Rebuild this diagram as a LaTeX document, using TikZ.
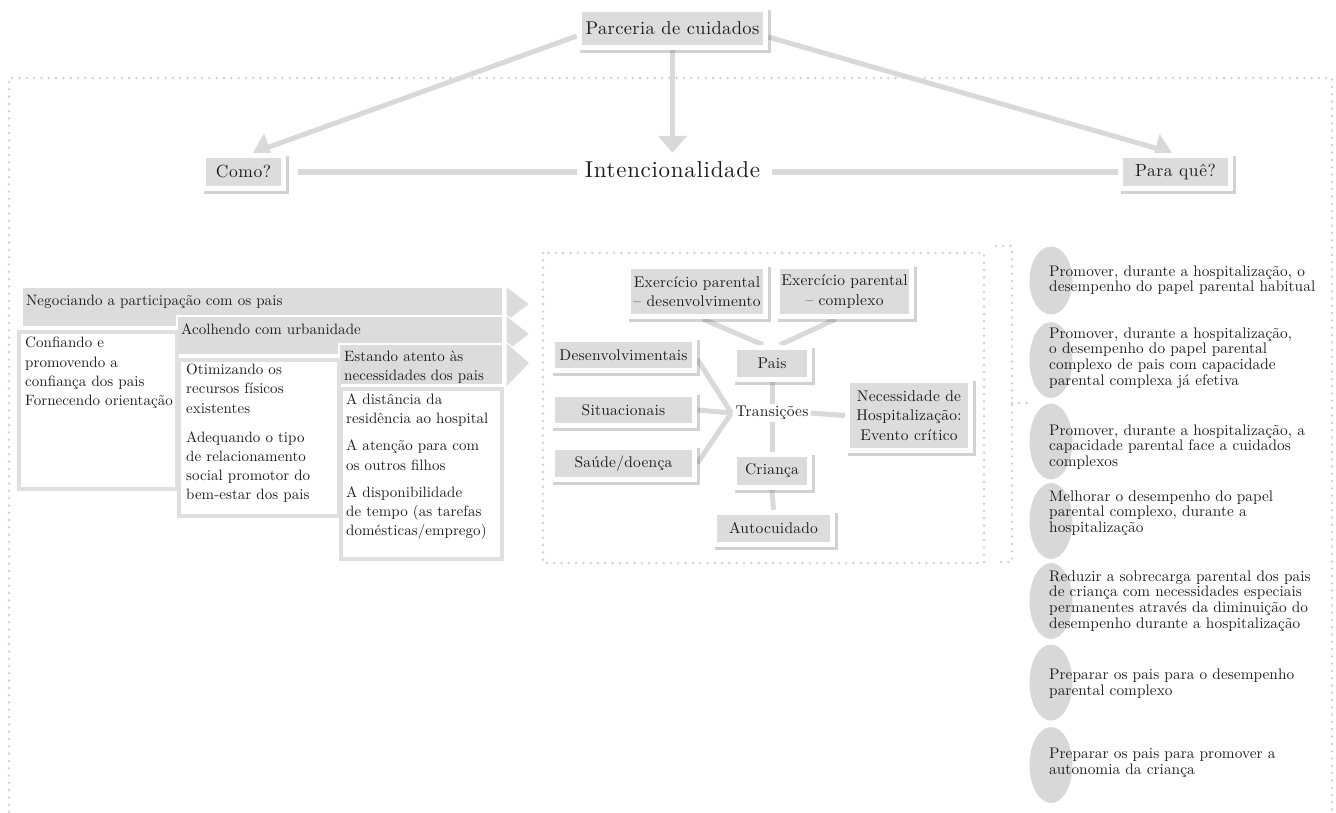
\documentclass[tikz,border=0pt]{standalone}
\usepackage{fontspec}
\setmainfont{lmroman10-regular.otf}[ItalicFont=lmroman10-italic.otf, BoldFont=lmroman10-bold.otf]
\usetikzlibrary{arrows.meta,shadows,shapes.geometric,backgrounds}
\definecolor{boxgray}{HTML}{DCDCDC}
\definecolor{linegray}{HTML}{D9D9D9}
\definecolor{dotgray}{HTML}{D3D3D3}
\definecolor{bordergray}{HTML}{E0E0E0}
\definecolor{ellgray}{HTML}{D8D8D8}
\definecolor{txt}{HTML}{1E1E1E}
\newcommand{\lsp}[1]{\addfontfeatures{LetterSpace=#1}}
\begin{document}
\begin{tikzpicture}[x=1pt,y=-1pt,
  fbox/.style={fill=white, inner sep=0pt, align=center, text=txt,
    drop shadow={shadow xshift=2.5pt, shadow yshift=-3pt, opacity=0.25, fill=black!70},
    path picture={\fill[boxgray] ([shift={(5pt,5pt)}]path picture bounding box.south west) rectangle ([shift={(-5pt,-5pt)}]path picture bounding box.north east);}},
  tfont/.style={font=\fontsize{15.5}{19.5}\selectfont\lsp{1.5}},
  lfont/.style={font=\fontsize{15}{19.2}\selectfont\lsp{0.4}},
  rfont/.style={font=\fontsize{15.3}{15.6}\selectfont\lsp{0.4}},
  dotline/.style={draw=dotgray, line width=2.8pt, line cap=round, dash pattern=on 0pt off 7.3pt},
  bigarrow/.style={draw=linegray, line width=5pt, -{Triangle[width=28pt,length=17pt]}},
  hline/.style={draw=linegray, line width=5.5pt},
  cline/.style={draw=linegray, line width=5pt},
  ltext/.style={lfont, inner sep=0pt, align=left, text=txt},
  rtext/.style={rfont, inner sep=0pt, align=left, text=txt, anchor=west},
  ell/.style={ellipse, fill=ellgray, inner sep=0pt, minimum width=43pt, minimum height=76pt},
  wbox/.style={fill=white, draw=bordergray, line width=3.5pt},
  band/.style={fill=boxgray, draw=white, line width=1.5pt},
  chev/.style={fill=boxgray, draw=white, line width=1.2pt, line join=miter}
]
\useasboundingbox (0,0) rectangle (1336,812);

% ---------- top part ----------
\node[fbox, font=\fontsize{18.5}{22}\selectfont\lsp{2}, minimum width=191pt, minimum height=43pt] (parc) at (672.5,28.5) {Parceria de cuidados};
\node[fbox, font=\fontsize{17.5}{21}\selectfont\lsp{3}, minimum width=85pt, minimum height=38pt] (como) at (243.5,172) {Como?};
\node[fbox, font=\fontsize{17.5}{21}\selectfont\lsp{3.5}, minimum width=115pt, minimum height=38pt] (paraque) at (1175.5,172) {Para quê?};
\node[font=\fontsize{23}{26}\selectfont\lsp{3}, inner sep=0pt, anchor=base, text=txt] (intenc) at (672.5,177) {Intencionalidade};

% ---------- left staircase ----------
\fill[band] (22,287) rectangle (503,327);
\fill[band] (177,316) rectangle (503,355);
\fill[band] (339,344) rectangle (503,385);
\draw[band] (22,287) rectangle (503,327);
\draw[band] (177,316) rectangle (503,355);
\draw[band] (339,344) rectangle (503,385);
\filldraw[chev] (506,286) -- (530,304) -- (506,322) -- cycle;
\filldraw[chev] (506,315) -- (530,334) -- (506,352) -- cycle;
\filldraw[chev] (506,342) -- (530,363) -- (506,388) -- cycle;
\draw[wbox] (19,332) rectangle (177,489);
\draw[wbox] (179,360) rectangle (339,516);
\draw[wbox] (341,389) rectangle (502,559);

\node[ltext, anchor=west] (n1) at (26,302) {Negociando a participação com os pais};
\node[ltext, anchor=west] (n2) at (181,329) {Acolhendo com urbanidade};
\node[ltext, anchor=west, font=\fontsize{15}{18.5}\selectfont\lsp{0.4}] (n3) at (344,367) {Estando atento às\\necessidades dos pais};
\node[ltext, anchor=west] (b1) at (25,373) {Confiando e\\promovendo a\\confiança dos pais\\Fornecendo orientação};
\node[ltext, anchor=west] (b2) at (186,433.5) {Otimizando os\\recursos físicos\\existentes\\[10pt]Adequando o tipo\\de relacionamento\\social promotor do\\bem-estar dos pais};
\node[ltext, anchor=west] (b3) at (346,466.5) {A distância da\\residência ao hospital\\[8pt]A atenção para com\\os outros filhos\\[8pt]A disponibilidade\\de tempo (as tarefas\\domésticas/emprego)};

% ---------- transitions ----------
\node[fbox, tfont, minimum width=142pt, minimum height=55pt] (ex1) at (697,291.5) {Exercício parental\\– desenvolvimento};
\node[fbox, tfont, minimum width=139pt, minimum height=55pt] (ex2) at (844.5,291.5) {Exercício parental\\– complexo};
\node[fbox, tfont, minimum width=80pt, minimum height=37pt] (pais) at (772,363.5) {Pais};
\node[fbox, tfont, minimum width=147pt, minimum height=36pt] (desenv) at (623.5,355) {Desenvolvimentais};
\node[fbox, tfont, minimum width=147pt, minimum height=36pt] (situ) at (623.5,410) {Situacionais};
\node[fbox, tfont, minimum width=147pt, minimum height=37pt] (saude) at (623.5,463.5) {Saúde/doença};
\node[tfont, fill=white, inner sep=2pt, text=txt] (trans) at (772,413) {Transições};
\node[fbox, tfont, minimum width=128pt, minimum height=75pt] (necess) at (909,415.5) {Necessidade de\\Hospitalização:\\Evento crítico};
\node[fbox, tfont, minimum width=80pt, minimum height=38pt] (crianca) at (772,471) {Criança};
\node[fbox, tfont, minimum width=123pt, minimum height=37pt] (auto) at (773.5,528.5) {Autocuidado};

% ---------- right column ----------
\node[ell, minimum height=68pt] (e1) at (1051,280.5) {};
\node[ell] (e2) at (1051,360) {};
\node[ell] (e3) at (1051,441.5) {};
\node[ell] (e4) at (1051,521) {};
\node[ell] (e5) at (1051,601) {};
\node[ell] (e6) at (1051,682.5) {};
\node[ell] (e7) at (1051,765) {};
\node[rtext] (r1) at (1049,280) {Promover, durante a hospitalização, o\\desempenho do papel parental habitual};
\node[rtext] (r2) at (1049,358) {Promover, durante a hospitalização,\\o desempenho do papel parental\\complexo de pais com capacidade\\parental complexa já efetiva};
\node[rtext] (r3) at (1049,447) {Promover, durante a hospitalização, a\\capacidade parental face a cuidados\\complexos};
\node[rtext] (r4) at (1049,513) {Melhorar o desempenho do papel\\parental complexo, durante a\\hospitalização};
\node[rtext] (r5) at (1049,601) {Reduzir a sobrecarga parental dos pais\\de criança com necessidades especiais\\permanentes através da diminuição do\\desempenho durante a hospitalização};
\node[rtext] (r6) at (1049,683.5) {Preparar os pais para o desempenho\\parental complexo};
\node[rtext] (r7) at (1049,763) {Preparar os pais para promover a\\autonomia da criança};

% ---------- background: frames and connectors ----------
\begin{pgfonlayer}{background}
\draw[dotline] (9,812) -- (9,78) -- (1332,78) -- (1332,812);
\draw[dotline] (543,253) rectangle (984,563);
\draw[dotline] (996,246) -- (1012,246) -- (1012,562) -- (996,562);
\draw[dotline] (1012,403) -- (1033,403);

\draw[bigarrow] (parc.south) -- (parc.south |- intenc.north) [shorten >=8pt];
\draw[bigarrow] ([yshift=-7.5pt]parc.west) -- ([xshift=9.5pt]como.north);
\draw[bigarrow] ([yshift=-8.5pt]parc.east) -- ([xshift=-3.5pt]paraque.north);
\draw[hline, shorten <=12pt, shorten >=8pt] (como.east) -- (como.east -| intenc.west);
\draw[hline, shorten <=12pt] (paraque.west -| intenc.east) -- (paraque.west);

\draw[cline] ([xshift=6pt]ex1.south) -- ([xshift=-9pt]pais.north);
\draw[cline] ([xshift=-9pt]ex2.south) -- ([xshift=8pt]pais.north);
\draw[cline] ([yshift=-4pt]desenv.east) -- ([xshift=-2pt]trans.west);
\draw[cline] (situ.east) -- ([xshift=-2pt]trans.west);
\draw[cline] (saude.east) -- ([xshift=-2pt]trans.west);
\draw[cline] (pais.south) -- (crianca.north);
\draw[cline] (trans.east) -- (necess.west);
\draw[cline] (crianca.south) -- (auto.north);
\end{pgfonlayer}
\end{tikzpicture}
\end{document}
